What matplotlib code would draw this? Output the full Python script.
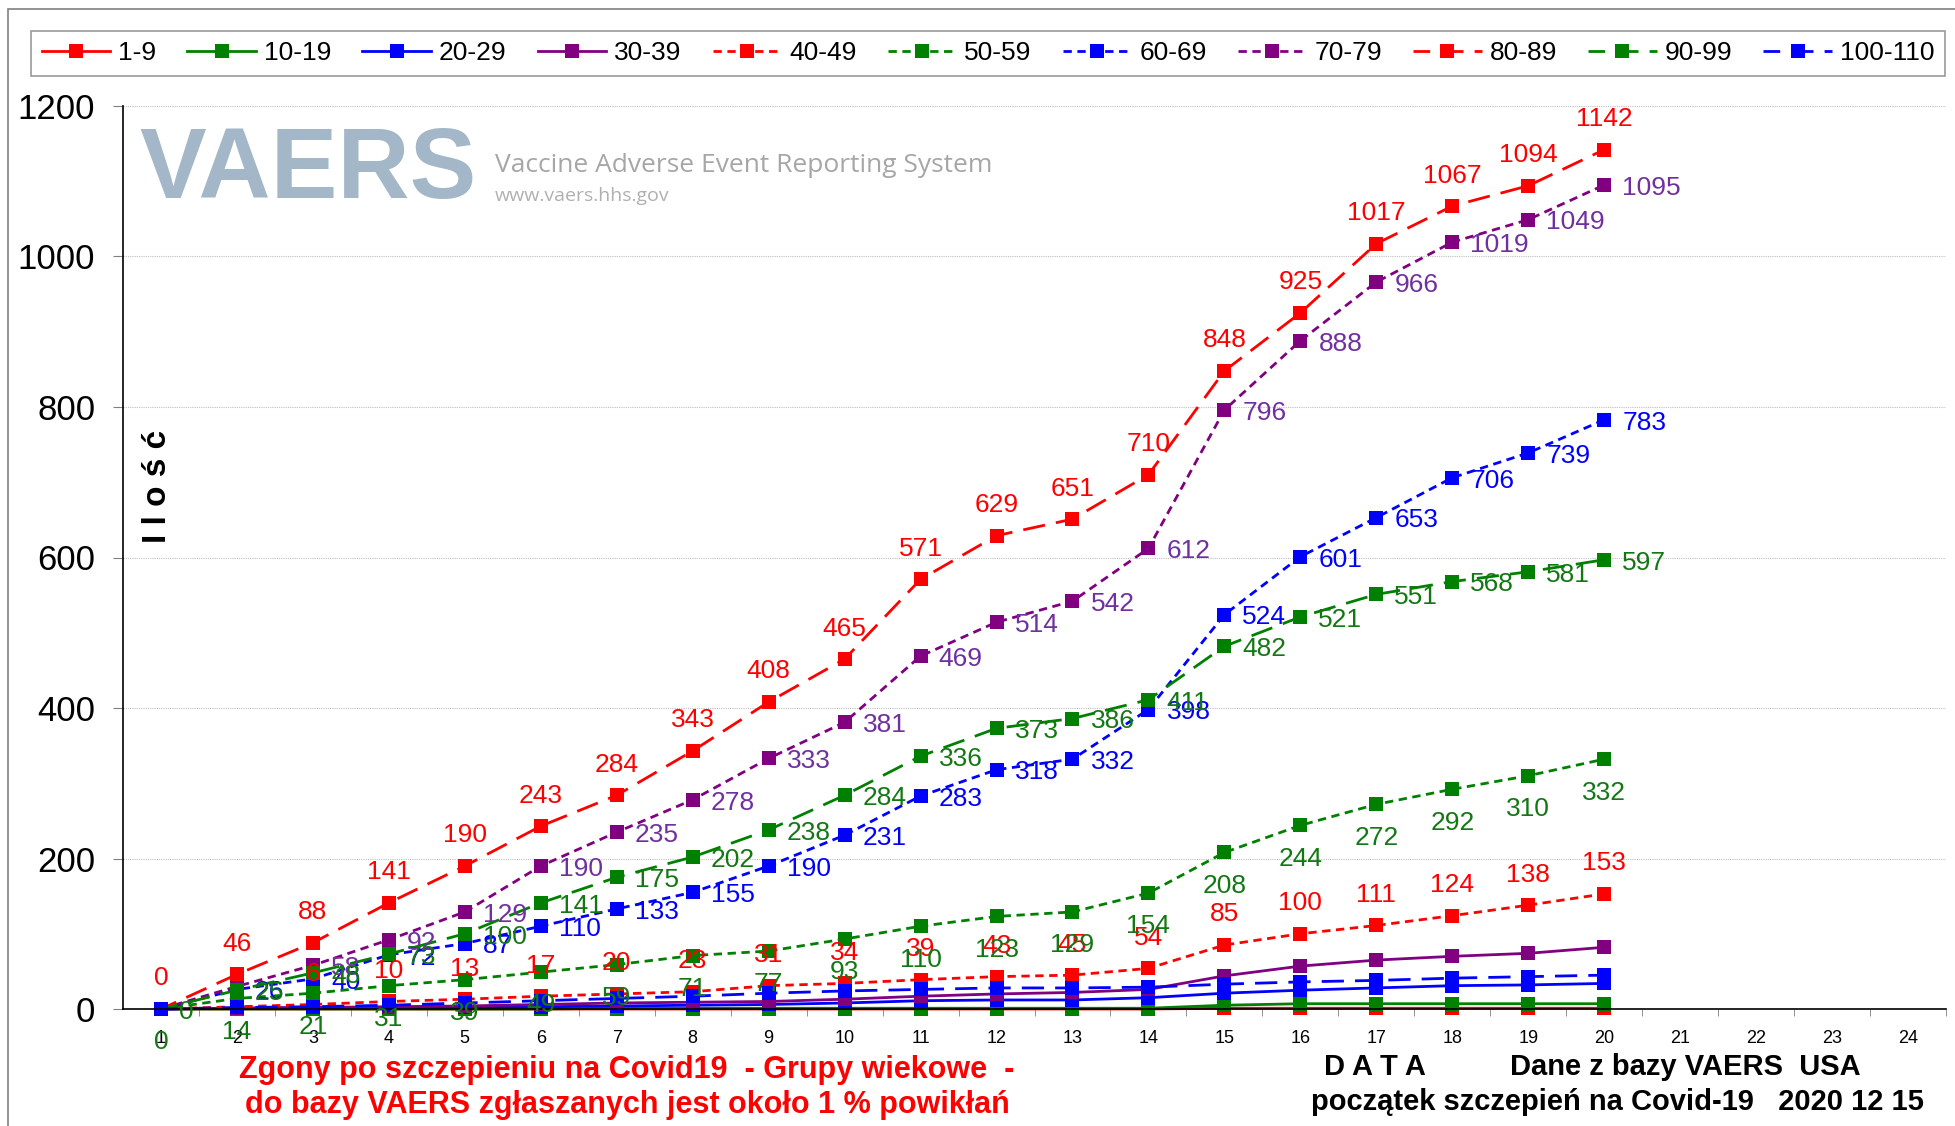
import matplotlib
matplotlib.use("Agg")
import matplotlib.pyplot as plt
from matplotlib.patches import Rectangle

plt.rcParams["font.family"] = ["Liberation Sans", "DejaVu Sans"]

W, H = 1955, 1126

# ---- data (cumulative deaths by age group) ----
days = list(range(1, 21))
tick_days = list(range(1, 25))
age_groups = ["1-9", "10-19", "20-29", "30-39", "40-49", "50-59",
              "60-69", "70-79", "80-89", "90-99", "100-110"]

d_1_9 = [0, 0, 0, 0, 0, 0, 0, 0, 0, 0, 0, 0, 0, 0, 1, 1, 1, 1, 1, 1]
d_10_19 = [0, 0, 0, 0, 0, 0, 1, 1, 1, 1, 1, 1, 1, 1, 5, 7, 7, 7, 7, 7]
d_20_29 = [0, 1, 2, 2, 3, 3, 4, 5, 6, 8, 11, 12, 12, 15, 21, 25, 28, 31, 32, 34]
d_30_39 = [0, 1, 2, 3, 4, 6, 8, 9, 10, 13, 17, 20, 22, 26, 44, 57, 65, 70, 74, 82]
d_40_49 = [0, 3, 6, 10, 13, 17, 20, 23, 31, 34, 39, 43, 45, 54, 85, 100, 111, 124, 138, 153]
d_50_59 = [0, 14, 21, 31, 39, 49, 59, 71, 77, 93, 110, 123, 129, 154, 208, 244, 272, 292, 310, 332]
d_60_69 = [0, 26, 40, 72, 87, 110, 133, 155, 190, 231, 283, 318, 332, 398, 524, 601, 653, 706, 739, 783]
d_70_79 = [0, 30, 58, 92, 129, 190, 235, 278, 333, 381, 469, 514, 542, 612, 796, 888, 966, 1019, 1049, 1095]
d_80_89 = [0, 46, 88, 141, 190, 243, 284, 343, 408, 465, 571, 629, 651, 710, 848, 925, 1017, 1067, 1094, 1142]
d_90_99 = [0, 25, 48, 73, 100, 141, 175, 202, 238, 284, 336, 373, 386, 411, 482, 521, 551, 568, 581, 597]
d_100_110 = [0, 2, 3, 5, 8, 11, 14, 17, 21, 24, 26, 28, 28, 29, 33, 36, 38, 41, 43, 45]

series = [d_1_9, d_10_19, d_20_29, d_30_39, d_40_49, d_50_59,
          d_60_69, d_70_79, d_80_89, d_90_99, d_100_110]

RED, GREEN, BLUE, PURPLE = "#ff0000", "#008000", "#0000ff", "#800080"
SOLID, SHORT, LONG = "-", (0, (3, 2)), (2, (8, 4))
colors = [RED, GREEN, BLUE, PURPLE, RED, GREEN, BLUE, PURPLE, RED, GREEN, BLUE]
styles = [SOLID] * 4 + [SHORT] * 4 + [LONG] * 3

# where each series has its value labels (None = no labels)
label_pos = [None, None, None, None, "above", "below", "right", "right", "above", "right", None]
label_col = {RED: "#ff0000", GREEN: "#137813", BLUE: "#0000ff", PURPLE: "#7030a0"}
label_zero = [False, False, False, False, False, True, False, False, True, True, False]
# labels hidden behind other markers in the original (series index, day)
hidden = {(4, 2), (7, 2)}


def fx(px):
    return px / W


def fy(py):
    return 1 - py / H


fig = plt.figure(figsize=(W / 100, H / 100), dpi=100)
fig.patches.append(Rectangle((fx(8), fy(1140)), 1.0, fy(9) - fy(1140), transform=fig.transFigure,
                             fill=False, edgecolor="#808080", linewidth=1.2))

ax = fig.add_axes([fx(123), fy(1009), fx(1946) - fx(123), fy(106) - fy(1009)])

handles = []
for name, vals, c, ls in zip(age_groups, series, colors, styles):
    h, = ax.plot(days, vals, color=c, linestyle=ls, linewidth=2.0, marker="s",
                 markersize=10, markeredgewidth=0, label=name, clip_on=False)
    handles.append(h)

offsets = {"above": ((0, 22), "center", "center"),
           "below": ((0, -24), "center", "center"),
           "right": ((13, -2), "left", "center")}
for i, (vals, c, pos, zero) in enumerate(zip(series, colors, label_pos, label_zero)):
    if pos is None:
        continue
    off, ha, va = offsets[pos]
    for d, v in zip(days, vals):
        if (v == 0 and not zero) or (i, d) in hidden:
            continue
        ax.annotate(f"{v}", (d, v), xytext=off, textcoords="offset points",
                    ha=ha, va=va, fontsize=19, color=label_col[c], zorder=10)

ax.set_xlim(0.5, 24.5)
ax.set_ylim(0, 1200)
ax.set_yticks(range(0, 1201, 200))
ax.set_xticks(tick_days)
ax.set_xticks([d + 0.5 for d in tick_days], minor=True)
ax.tick_params(axis="y", labelsize=25, length=7, color="#808080", pad=13)
ax.tick_params(axis="x", which="major", labelsize=13, length=0, pad=15)
ax.tick_params(axis="x", which="minor", length=5, color="#808080")
ax.grid(axis="y", color="#bfbfbf", linestyle=(0, (1, 1)), linewidth=0.8)
ax.set_axisbelow(True)
for s in ["top", "right"]:
    ax.spines[s].set_visible(False)
for s in ["left", "bottom"]:
    ax.spines[s].set_color("black")
    ax.spines[s].set_linewidth(1.2)

leg = fig.legend(handles=handles, loc="lower left", ncol=11, mode="expand",
                 bbox_to_anchor=(fx(31), fy(76), fx(1945) - fx(31), fy(26) - fy(76)),
                 fontsize=19, frameon=True, fancybox=False, edgecolor="#808080",
                 handlelength=2.6, handletextpad=0.3, borderaxespad=0, numpoints=1)
leg.get_frame().set_linewidth(1.2)

# VAERS logo (watermark-like, inside the plot)
fig.text(fx(139), fy(172), "VAERS", fontsize=72, fontweight="bold", color="#a3b7c9",
         ha="left", va="center")
fig.text(fx(495), fy(166), "Vaccine Adverse Event Reporting System", fontsize=19,
         color="#a6a6a6", ha="left", va="center", family=["Open Sans", "DejaVu Sans"])
fig.text(fx(495), fy(196), "www.vaers.hhs.gov", fontsize=14, color="#b0b0b0",
         ha="left", va="center", family=["Open Sans", "DejaVu Sans"])

fig.text(fx(158), fy(486), "I l o ś ć", rotation=90, fontsize=24, fontweight="bold",
         ha="center", va="center")

fig.text(fx(627), fy(1070), "Zgony po szczepieniu na Covid19  - Grupy wiekowe  -",
         fontsize=22, fontweight="bold", color="#ff0000", ha="center", va="center")
fig.text(fx(627), fy(1105), "do bazy VAERS zgłaszanych jest około 1 % powikłań",
         fontsize=22, fontweight="bold", color="#ff0000", ha="center", va="center")
fig.text(fx(1375), fy(1067), "D A T A", fontsize=21, fontweight="bold", ha="center", va="center")
fig.text(fx(1685), fy(1067), "Dane z bazy VAERS  USA", fontsize=21, fontweight="bold",
         ha="center", va="center")
fig.text(fx(1617), fy(1102), "początek szczepień na Covid-19   2020 12 15", fontsize=21,
         fontweight="bold", ha="center", va="center")

fig.savefig("out.png", dpi=100, facecolor="white")
